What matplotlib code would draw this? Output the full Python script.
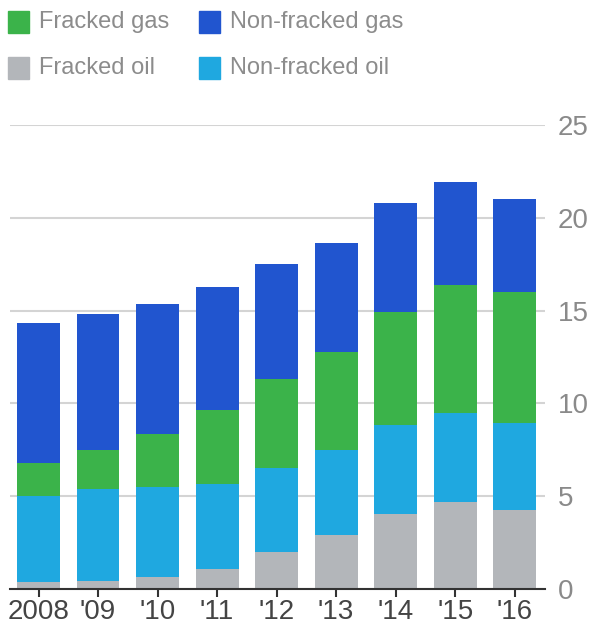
import matplotlib.pyplot as plt
import numpy as np
from matplotlib.patches import Rectangle

# =============================================================================
# Data (million barrels of oil equivalent per day)
# =============================================================================

years = ['2008', "'09", "'10", "'11", "'12", "'13", "'14", "'15", "'16"]
fracked_oil = [0.36, 0.43, 0.65, 1.06, 1.98, 2.92, 4.05, 4.68, 4.27]
nonfracked_oil = [4.67, 4.94, 4.85, 4.60, 4.54, 4.59, 4.76, 4.78, 4.65]
fracked_gas = [1.76, 2.13, 2.86, 3.98, 4.78, 5.28, 6.14, 6.92, 7.06]
nonfracked_gas = [7.52, 7.33, 7.01, 6.63, 6.21, 5.84, 5.86, 5.55, 5.05]

yticks = [0, 5, 10, 15, 20, 25]

# colours
c_foil = '#b3b6ba'
c_noil = '#1fa8e0'
c_fgas = '#3bb34a'
c_ngas = '#2155cf'

plt.rcParams['font.family'] = ['Liberation Sans', 'DejaVu Sans']

# =============================================================================
# Figure
# =============================================================================

W, H = 589, 627
fig = plt.figure(figsize=(W / 100, H / 100), dpi=100)
ax = fig.add_axes([10 / W, 38 / H, 535 / W, 464 / H])

x = np.arange(len(years))
bw = 0.72

layers = [(fracked_oil, c_foil), (nonfracked_oil, c_noil),
          (fracked_gas, c_fgas), (nonfracked_gas, c_ngas)]
bottom = np.zeros(len(years))
for vals, col in layers:
    ax.bar(x, vals, bw, bottom=bottom, color=col, zorder=3)
    bottom = bottom + np.array(vals)

ax.set_xlim(-0.48, 8.51)
ax.set_ylim(0, 25)

ax.set_yticks(yticks)
ax.yaxis.tick_right()
ax.tick_params(axis='y', length=0, pad=9, labelsize=20, labelcolor='#8a8a8a')
ax.grid(axis='y', color='#d4d4d4', linewidth=1.5, zorder=0)

ax.set_xticks(x)
ax.set_xticklabels(years)
ax.tick_params(axis='x', length=6, width=1.5, color='#333333', pad=1,
               labelsize=20, labelcolor='#444444')

for s in ['top', 'left', 'right']:
    ax.spines[s].set_visible(False)
ax.spines['bottom'].set_color('#333333')
ax.spines['bottom'].set_linewidth(1.5)
ax.spines['bottom'].set_zorder(4)

# legend, drawn by hand in pixel positions
legend_items = [('Fracked gas', c_fgas, 8, 22), ('Non-fracked gas', c_ngas, 199, 22),
                ('Fracked oil', c_foil, 8, 68), ('Non-fracked oil', c_noil, 199, 68)]
for label, col, lx, ly in legend_items:
    fig.add_artist(Rectangle((lx / W, 1 - (ly + 11) / H), 21 / W, 22 / H,
                             transform=fig.transFigure, color=col))
    fig.text((lx + 31) / W, 1 - ly / H, label, fontsize=17, color='#8c8c8c',
             va='center', ha='left')

fig.savefig('out.png', dpi=100)
